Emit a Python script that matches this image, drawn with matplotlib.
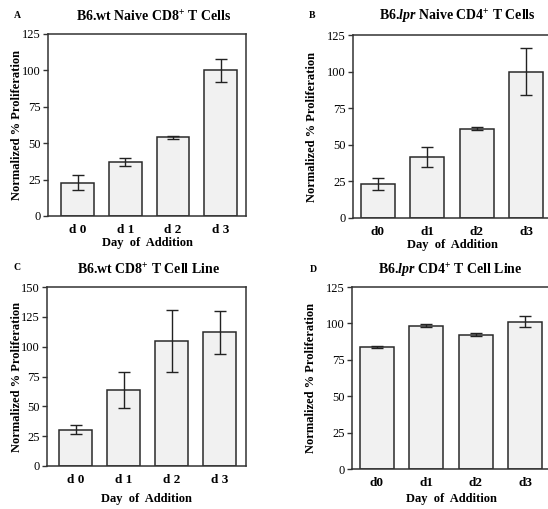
import numpy as np
import matplotlib
matplotlib.use('Agg')
import matplotlib.pyplot as plt

plt.rcParams['font.family'] = ['Liberation Serif', 'DejaVu Serif']
plt.rcParams['mathtext.fontset'] = 'custom'
plt.rcParams['mathtext.rm'] = 'Liberation Serif:bold'
plt.rcParams['mathtext.bf'] = 'Liberation Serif:bold'
plt.rcParams['mathtext.it'] = 'Liberation Serif:italic:bold'

## DATA
days_ac = ['d 0', 'd 1', 'd 2', 'd 3']
days_bd = ['d0', 'd1', 'd2', 'd3']

a_vals = [23, 37, 54, 100]
a_err = [5, 3, 1, 8]
b_vals = [23, 41.5, 61, 100]
b_err = [4, 7, 1.2, 16]
c_vals = [30.5, 64, 104.5, 112]
c_err = [3.5, 15, 26, 18]
d_vals = [84, 98.5, 92.3, 101.3]
d_err = [0.8, 0.8, 0.8, 3.5]

panels = [
    dict(letter='A', title=r'B6.wt Naive CD8$^{+}$ T Cells', labels=days_ac,
         vals=a_vals, err=a_err, ymax=125, yticks=[0, 25, 50, 75, 100, 125],
         rect=[48, 34, 246, 216], xlim=(-0.62, 3.53), lpos=(14, 15), tpos=(154, 17),
         ylab=17, xlab=243),
    dict(letter='B', title=r'B6.$\mathit{lpr}$ Naive CD4$^{+}$ T Cells', labels=days_bd,
         vals=b_vals, err=b_err, ymax=125, yticks=[0, 25, 50, 75, 100, 125],
         rect=[353, 35, 551, 218], xlim=(-0.5, 3.5), lpos=(309, 15), tpos=(457, 17),
         ylab=312, xlab=245),
    dict(letter='C', title=r'B6.wt CD8$^{+}$ T Cell Line', labels=days_ac,
         vals=c_vals, err=c_err, ymax=150, yticks=[0, 25, 50, 75, 100, 125, 150],
         rect=[47, 287, 246, 466], xlim=(-0.6, 3.55), lpos=(14, 267), tpos=(149, 270),
         ylab=17, xlab=499),
    dict(letter='D', title=r'B6.$\mathit{lpr}$ CD4$^{+}$ T Cell Line', labels=days_bd,
         vals=d_vals, err=d_err, ymax=125, yticks=[0, 25, 50, 75, 100, 125],
         rect=[352, 287, 550, 469], xlim=(-0.5, 3.5), lpos=(310, 269), tpos=(450, 271),
         ylab=311, xlab=499),
]

W, H = 548, 509
fig = plt.figure(figsize=(W / 100, H / 100), dpi=100)
fig.patch.set_facecolor('white')

for p in panels:
    x0, y0, x1, y1 = p['rect']
    ax = fig.add_axes([x0 / W, 1 - y1 / H, (x1 - x0) / W, (y1 - y0) / H])
    x = np.arange(len(p['vals']))
    ax.bar(x, p['vals'], width=0.68, color='#f1f1f1', edgecolor='#2a2a2a', linewidth=1.1, zorder=2)
    ax.errorbar(x, p['vals'], yerr=p['err'], fmt='none', ecolor='#222222',
                elinewidth=1.0, capsize=4, capthick=1.0, zorder=3)
    ax.set_xlim(*p['xlim'])
    ax.set_ylim(0, p['ymax'])
    ax.set_yticks(p['yticks'])
    ax.set_yticklabels([str(t) for t in p['yticks']], fontsize=9)
    ax.set_xticks(x)
    ax.set_xticklabels(p['labels'], fontsize=9.5, fontweight='bold')
    ax.tick_params(axis='x', length=0, pad=6)
    ax.tick_params(axis='y', length=3.5, width=1.0, pad=1.5, color='#333333')
    for s in ax.spines.values():
        s.set_linewidth(1.1)
        s.set_color('#333333')
    ax.set_ylabel('Normalized % Proliferation', fontsize=9, fontweight='bold')
    ax.yaxis.label.set_va('center')
    ax.yaxis.set_label_coords((p['ylab'] - x0) / (x1 - x0), 0.5)
    ax.set_xlabel('Day  of  Addition', fontsize=9, fontweight='bold')
    ax.xaxis.label.set_va('center')
    ax.xaxis.set_label_coords(0.5, -(p['xlab'] - y1) / (y1 - y0))
    fig.text(p['tpos'][0] / W, 1 - p['tpos'][1] / H, p['title'], fontsize=10,
             fontweight='bold', ha='center', va='center')
    fig.text(p['lpos'][0] / W, 1 - p['lpos'][1] / H, p['letter'], fontsize=7,
             fontweight='bold', ha='left', va='center')

fig.savefig('out.png', dpi=100)
